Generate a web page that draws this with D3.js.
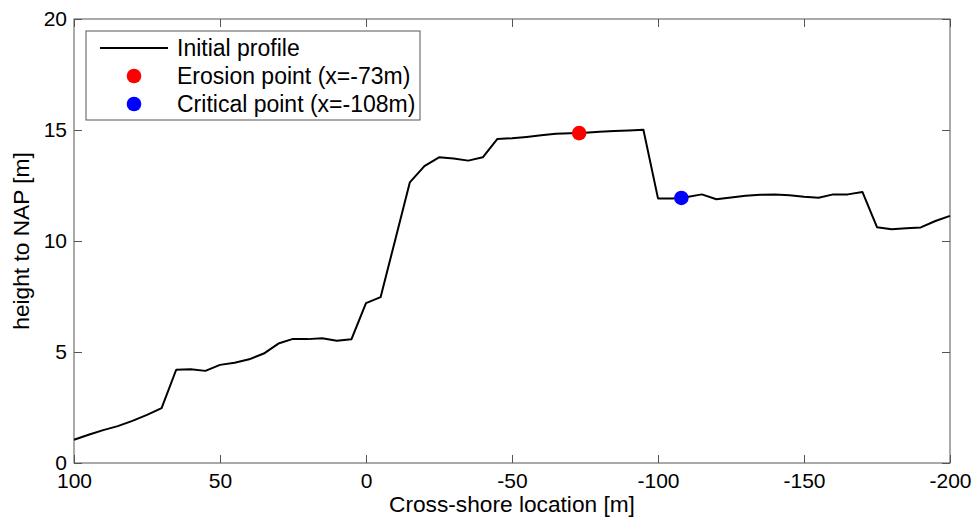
<!DOCTYPE html>
<html>
<head>
<meta charset="utf-8">
<title>Initial profile</title>
<script src="https://cdn.jsdelivr.net/npm/d3@7"></script>
<style>
  body { margin: 0; background: #fff; }
  text { font-family: "Liberation Sans", Arial, Helvetica, sans-serif; fill: #000; }
</style>
</head>
<body>
<script>
// cross-shore location [m] and height to NAP [m]
var xs = [100, 95, 90, 85, 80, 75, 70, 65, 60, 55, 50, 45, 40, 35, 30, 25, 20, 15, 10, 5,
  0, -5, -10, -15, -20, -25, -30, -35, -40, -45, -50, -55, -60, -65, -70, -75, -80, -85, -90, -95,
  -100, -105, -110, -115, -120, -125, -130, -135, -140, -145, -150, -155, -160, -165, -170, -175,
  -180, -185, -190, -195, -200];
var heights = [1.05, 1.27, 1.48, 1.66, 1.90, 2.17, 2.47, 4.20, 4.22, 4.15, 4.42, 4.52, 4.67, 4.93, 5.38, 5.59, 5.58, 5.62, 5.51, 5.57,
  7.20, 7.47, 10.05, 12.64, 13.37, 13.77, 13.72, 13.62, 13.77, 14.60, 14.63, 14.69, 14.76, 14.83, 14.85, 14.88, 14.92, 14.95, 14.98, 15.01,
  11.92, 11.91, 11.98, 12.10, 11.88, 11.96, 12.04, 12.08, 12.09, 12.06, 11.99, 11.95, 12.10, 12.10, 12.21, 10.62,
  10.53, 10.57, 10.61, 10.90, 11.13];
var xTicks = [100, 50, 0, -50, -100, -150, -200];
var yTicks = [0, 5, 10, 15, 20];
var points = [
  {name: "Erosion point (x=-73m)", x: -73, y: 14.86, color: "#ff0000"},
  {name: "Critical point (x=-108m)", x: -108, y: 11.94, color: "#0000ff"}
];

var width = 973, height = 522;
var margin = {left: 74, right: 23, top: 19, bottom: 59};
var iw = width - margin.left - margin.right;
var ih = height - margin.top - margin.bottom;

var svg = d3.select("body").append("svg")
  .attr("width", width).attr("height", height);

var x = d3.scaleLinear().domain([100, -200]).range([0, iw]);
var y = d3.scaleLinear().domain([0, 20]).range([ih, 0]);

var g = svg.append("g").attr("transform", "translate(" + margin.left + "," + margin.top + ")");

var axisColor = "#555";
var tickLen = 8;
var plainNum = function(d) { return String(d); };  // hyphen minus like the original

// axes (ticks pointing inward, mirrored on top and right)
function styleAxis(sel) {
  sel.select(".domain").remove();
  sel.selectAll("line").attr("stroke", axisColor);
  sel.selectAll("text").style("font-size", "21px").attr("fill", "#000");
}
g.append("g").attr("transform", "translate(0," + ih + ")")
  .call(d3.axisBottom(x).tickValues(xTicks).tickSize(-tickLen).tickPadding(10).tickFormat(plainNum))
  .call(styleAxis);
g.append("g")
  .call(d3.axisTop(x).tickValues(xTicks).tickSize(-tickLen).tickFormat(""))
  .call(styleAxis);
g.append("g")
  .call(d3.axisLeft(y).tickValues(yTicks).tickSize(-tickLen).tickPadding(7).tickFormat(plainNum))
  .call(styleAxis);
g.append("g").attr("transform", "translate(" + iw + ",0)")
  .call(d3.axisRight(y).tickValues(yTicks).tickSize(-tickLen).tickFormat(""))
  .call(styleAxis);

g.append("rect")
  .attr("width", iw).attr("height", ih)
  .attr("fill", "none").attr("stroke", axisColor).attr("stroke-width", 1);

// profile
var line = d3.line()
  .x(function(d, i) { return x(xs[i]); })
  .y(function(d) { return y(d); });
g.append("path")
  .datum(heights)
  .attr("d", line)
  .attr("fill", "none")
  .attr("stroke", "#000")
  .attr("stroke-width", 2)
  .attr("stroke-linejoin", "round");

g.selectAll(".pt").data(points).enter().append("circle")
  .attr("class", "pt")
  .attr("cx", function(d) { return x(d.x); })
  .attr("cy", function(d) { return y(d.y); })
  .attr("r", 7.3)
  .attr("fill", function(d) { return d.color; });

// axis labels
svg.append("text")
  .attr("x", margin.left + iw / 2).attr("y", 512)
  .attr("text-anchor", "middle")
  .style("font-size", "22.7px")
  .text("Cross-shore location [m]");
svg.append("text")
  .attr("transform", "translate(29," + (margin.top + ih / 2) + ") rotate(-90)")
  .attr("text-anchor", "middle")
  .style("font-size", "22.7px")
  .text("height to NAP [m]");

// legend
var lg = svg.append("g").attr("transform", "translate(86,31)");
lg.append("rect")
  .attr("width", 334).attr("height", 89)
  .attr("fill", "#fff").attr("stroke", axisColor).attr("stroke-width", 1);
var rowY = [17, 45, 73];
lg.append("line")
  .attr("x1", 14).attr("x2", 82).attr("y1", rowY[0]).attr("y2", rowY[0])
  .attr("stroke", "#000").attr("stroke-width", 2);
lg.append("text").attr("x", 91).attr("y", rowY[0] + 8)
  .style("font-size", "23px").text("Initial profile");
points.forEach(function(p, i) {
  lg.append("circle").attr("cx", 48).attr("cy", rowY[i + 1]).attr("r", 7.3).attr("fill", p.color);
  lg.append("text").attr("x", 91).attr("y", rowY[i + 1] + 8)
    .style("font-size", "23px").text(p.name);
});
</script>
</body>
</html>
